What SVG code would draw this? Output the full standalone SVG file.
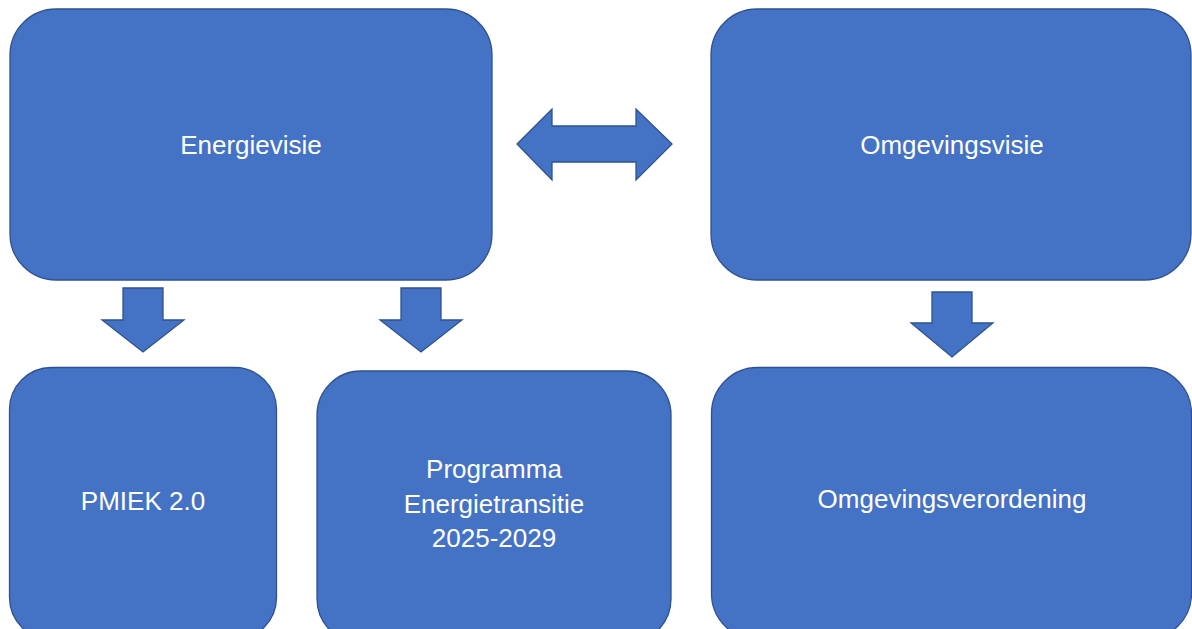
<svg xmlns="http://www.w3.org/2000/svg" width="1192" height="629" viewBox="0 0 1192 629">
<style>
.box{fill:#4472C4;stroke:#2F528F;stroke-width:1.3}
.arr{fill:#4472C4;stroke:#2F528F;stroke-width:1.3;stroke-linejoin:miter}
.lbl{font-family:"Liberation Sans",Arial,sans-serif;font-size:26px;fill:#FFFFFF;text-anchor:middle}
</style>
<rect width="1192" height="629" fill="#FFFFFF"/>
<g id="energievisie">
<rect class="box" x="10" y="9" width="482" height="271" rx="46" ry="46"/>
<text class="lbl" x="251" y="154">Energievisie</text>
</g>
<g id="omgevingsvisie">
<rect class="box" x="711" y="9" width="480" height="271" rx="46" ry="46"/>
<text class="lbl" x="952" y="154">Omgevingsvisie</text>
</g>
<g id="pmiek">
<rect class="box" x="9.5" y="367.5" width="267" height="272" rx="42" ry="42"/>
<text class="lbl" x="143" y="510">PMIEK 2.0</text>
</g>
<g id="programma">
<rect class="box" x="317" y="371" width="354" height="272" rx="44" ry="44"/>
<text class="lbl" x="494" y="478">Programma</text>
<text class="lbl" x="494" y="513">Energietransitie</text>
<text class="lbl" x="494" y="547">2025-2029</text>
</g>
<g id="omgevingsverordening">
<rect class="box" x="711.5" y="367.5" width="480" height="272" rx="46" ry="46"/>
<text class="lbl" x="952" y="508">Omgevingsverordening</text>
</g>
<g id="connectors">
<polygon class="arr" points="517,144 552,109 552,126 636,126 636,109 672,144 636,180 636,162 552,162 552,180"/>
<polygon class="arr" points="123,288 163,288 163,320 184,320 143,352 102,320 123,320"/>
<polygon class="arr" points="401,288 441,288 441,320 462,320 421,352 380,320 401,320"/>
<polygon class="arr" points="932,292 972,292 972,323 993,323 952,357 911,323 932,323"/>
</g>
</svg>
